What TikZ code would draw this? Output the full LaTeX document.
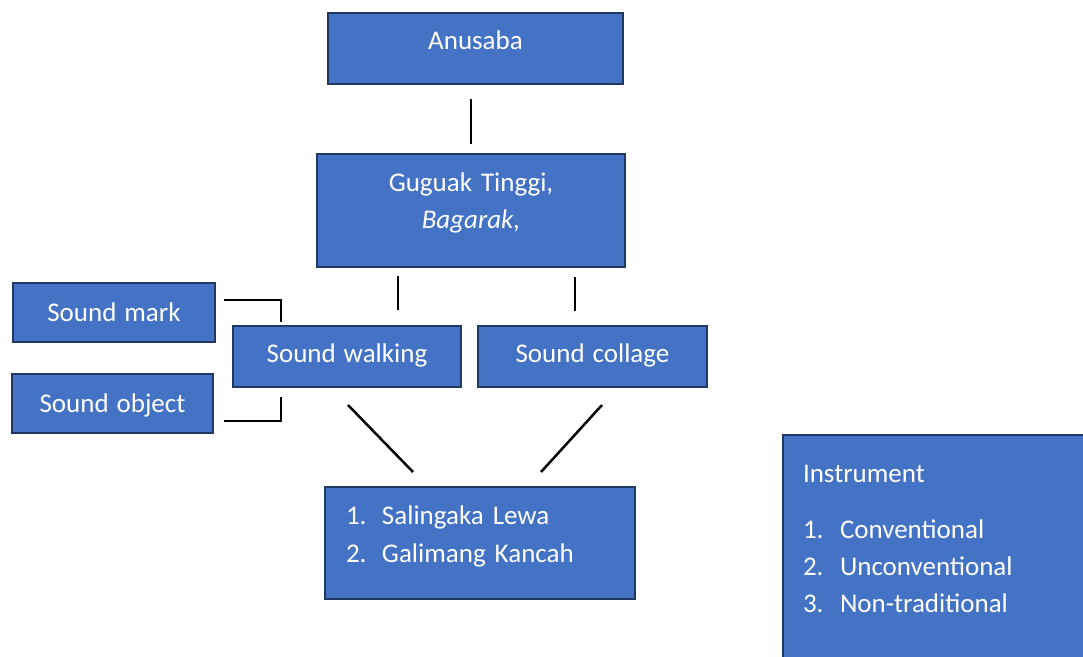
\documentclass[tikz,border=0pt]{standalone}
\usepackage{fontspec}
\setmainfont{Carlito}[WordSpace=1.3]
\usepackage{tikz}
\usetikzlibrary{positioning}

\definecolor{boxfill}{HTML}{4472C4}
\definecolor{boxline}{HTML}{203864}

\begin{document}
\begin{tikzpicture}[
        x=1pt, y=-1pt,
        node distance=18pt,
        every node/.style={draw=boxline, fill=boxfill, line width=2pt, outer sep=0pt, inner sep=0pt,
            text=white, font=\fontsize{27}{37}\selectfont, text height=17.4pt, text depth=0pt},
        link/.style={line width=2.5pt, black}
    ]
    \path[use as bounding box, clip] (0,0) rectangle (1083,656);

    % Nodes
    \node (anusaba) [minimum width=295pt, minimum height=71pt, text depth=16pt] at (475.5,48.5) {Anusaba};

    \node (guguak) [below=70pt of anusaba, xshift=-4.5pt, minimum width=308pt, minimum height=113pt,
        text width=280pt, align=center, text depth=56.4pt] {Guguak Tinggi,\\ \textit{Bagarak,}};

    \node (walk) [below=59pt of guguak, xshift=-124pt, minimum width=228pt, minimum height=61pt,
        text depth=6pt] {Sound walking};
    \node (collage) [right=17pt of walk, minimum width=229pt, minimum height=61pt, text depth=6pt] {Sound collage};

    \node (mark) [left=of walk, yshift=44pt, minimum width=202pt, minimum height=59pt] {Sound mark};
    \node (object) [below=32pt of mark, xshift=-1.5pt, minimum width=201pt, minimum height=59pt] {Sound object};

    \node (saling) [below=100pt of walk, xshift=133pt, minimum width=310pt, minimum height=112pt,
        text width=268pt, align=left, text depth=55.4pt]
        {\makebox[36pt][l]{1.}Salingaka Lewa\\[1pt] \makebox[36pt][l]{2.}Galimang Kancah};

    \node (instr) [anchor=north west, inner xsep=20pt, inner ysep=29.6pt, text width=320pt,
        align=left, text depth=200pt] at (783,435)
        {Instrument\\[19pt] \makebox[37pt][l]{1.}Conventional\\ \makebox[37pt][l]{2.}Unconventional\\
         \makebox[37pt][l]{3.}Non-traditional};

    % Edges
    \draw[link] ([xshift=-4.5pt, yshift=-15pt]anusaba.south) -- ([yshift=10pt]guguak.north);
    \draw[link] ([xshift=-73pt, yshift=-9pt]guguak.south) -- ([xshift=51pt, yshift=16pt]walk.north);
    \draw[link] ([xshift=104pt, yshift=-10pt]guguak.south) -- ([xshift=-17.5pt, yshift=15pt]collage.north);
    \draw[link] ([xshift=9pt, yshift=12.5pt]mark.east) -| ([xshift=48pt, yshift=4pt]walk.north west);
    \draw[link] ([xshift=11pt, yshift=-17.5pt]object.east) -| ([xshift=48pt, yshift=-10pt]walk.south west);
    \draw[link] ([xshift=1pt, yshift=-18pt]walk.south) -- ([xshift=-67pt, yshift=15pt]saling.north);
    \draw[link] ([xshift=9.5pt, yshift=-18pt]collage.south) -- ([xshift=61pt, yshift=15pt]saling.north);

\end{tikzpicture}
\end{document}
